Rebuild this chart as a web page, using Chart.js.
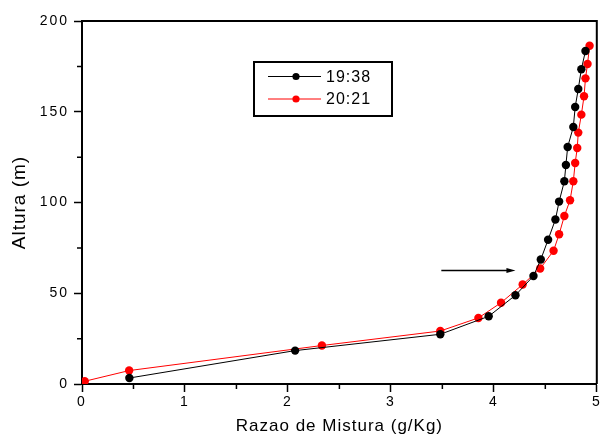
<!DOCTYPE html>
<html>
<head>
<meta charset="utf-8">
<script src="https://cdn.jsdelivr.net/npm/chart.js@4.4.1/dist/chart.umd.min.js"></script>
<style>
  html, body { margin: 0; background: #fff; }
  #wrap { width: 601px; height: 437px; }
</style>
</head>
<body>
<div id="wrap"><canvas id="grafico"></canvas></div>
<script>
// Perfil de razão de mistura x altura, dois horários
const NOMES = ["19:38", "20:21"];

const razao1938 = [0.46, 2.07, 3.48, 3.95, 4.21, 4.385, 4.456, 4.527, 4.598, 4.634, 4.685, 4.70, 4.717, 4.772, 4.79, 4.82, 4.85, 4.89];
const altura1938 = [3.3, 18.4, 27.4, 37.3, 48.9, 59.5, 68.6, 79.5, 90.6, 100.5, 111.7, 120.7, 130.6, 141.6, 152.6, 162.5, 173.4, 183.5];

const razao2021 = [0.026, 0.458, 2.33, 3.48, 3.85, 4.07, 4.28, 4.45, 4.58, 4.634, 4.685, 4.74, 4.772, 4.79, 4.81, 4.82, 4.85, 4.876, 4.89, 4.91, 4.93];
const altura2021 = [1.5, 7.4, 21.2, 29.2, 36.4, 44.8, 54.8, 63.6, 73.4, 82.5, 92.6, 101.2, 111.7, 121.8, 130, 138.5, 148.4, 158.5, 168.4, 176.3, 186.4];

const xMinorTicks = [0.5, 1.5, 2.5, 3.5, 4.5];
const yMinorTicks = [25, 75, 125, 175];

// seta: início, fim e altura em unidades dos eixos
const seta = { de: 3.49, ate: 4.21, altura: 62.6 };

const FONTE = "'Liberation Sans', Arial, sans-serif";

function pares(xs, ys) {
  return xs.map((x, i) => ({ x: x, y: ys[i] }));
}

function serie(nome, dados, cor) {
  return {
    label: nome,
    data: dados,
    showLine: true,
    borderColor: cor,
    backgroundColor: cor,
    borderWidth: 1,
    pointRadius: 4.2,
    pointHoverRadius: 4.2,
    pointBorderWidth: 0,
    tension: 0,
  };
}

const espacamento = {
  id: "espacamento",
  beforeDraw(chart) { chart.ctx.letterSpacing = "1px"; },
  afterDatasetsDraw(chart) { chart.ctx.letterSpacing = "2px"; },
};

const extras = {
  id: "extras",
  afterDraw(chart) {
    const ctx = chart.ctx;
    const a = chart.chartArea;
    const sx = chart.scales.x, sy = chart.scales.y;
    ctx.save();
    ctx.letterSpacing = "0px";
    ctx.strokeStyle = "#000";
    ctx.fillStyle = "#000";

    // moldura superior e direita
    ctx.lineWidth = 2;
    ctx.beginPath();
    ctx.moveTo(a.left, a.top);
    ctx.lineTo(a.right, a.top);
    ctx.lineTo(a.right, a.bottom);
    ctx.stroke();

    // ticks menores
    ctx.lineWidth = 1.5;
    ctx.beginPath();
    xMinorTicks.forEach((v) => {
      const px = sx.getPixelForValue(v);
      ctx.moveTo(px, a.bottom);
      ctx.lineTo(px, a.bottom + 5);
    });
    yMinorTicks.forEach((v) => {
      const py = sy.getPixelForValue(v);
      ctx.moveTo(a.left, py);
      ctx.lineTo(a.left - 5, py);
    });
    ctx.stroke();

    // seta
    const x0 = sx.getPixelForValue(seta.de);
    const x1 = sx.getPixelForValue(seta.ate);
    const ys = Math.round(sy.getPixelForValue(seta.altura)) + 0.5;
    ctx.lineWidth = 1.5;
    ctx.beginPath();
    ctx.moveTo(x0, ys);
    ctx.lineTo(x1 - 6, ys);
    ctx.stroke();
    ctx.beginPath();
    ctx.moveTo(x1, ys);
    ctx.lineTo(x1 - 9, ys - 2.5);
    ctx.lineTo(x1 - 9, ys + 2.5);
    ctx.closePath();
    ctx.fill();

    // legenda
    ctx.lineWidth = 2;
    ctx.strokeRect(254, 62, 138, 54);
    ctx.font = "16px " + FONTE;
    ctx.letterSpacing = "1px";
    ctx.textBaseline = "middle";
    ctx.textAlign = "left";
    const linhas = [76.5, 99];
    chart.data.datasets.forEach((ds, i) => {
      const y = linhas[i];
      ctx.strokeStyle = ds.borderColor;
      ctx.fillStyle = ds.borderColor;
      ctx.lineWidth = 1;
      ctx.beginPath();
      ctx.moveTo(268, y);
      ctx.lineTo(321, y);
      ctx.stroke();
      ctx.beginPath();
      ctx.arc(296, y, 3.6, 0, Math.PI * 2);
      ctx.fill();
      ctx.fillStyle = "#000";
      ctx.fillText(ds.label, 326, y + 1);
    });
    ctx.restore();
  },
};

new Chart(document.getElementById("grafico"), {
  type: "scatter",
  data: {
    datasets: [
      serie(NOMES[0], pares(razao1938, altura1938), "#000000"),
      serie(NOMES[1], pares(razao2021, altura2021), "#ff0000"),
    ],
  },
  options: {
    responsive: true,
    maintainAspectRatio: false,
    animation: false,
    events: [],
    layout: { padding: { top: 21, right: 2, left: 0, bottom: 0 } },
    plugins: {
      legend: { display: false },
      tooltip: { enabled: false },
    },
    scales: {
      x: {
        type: "linear",
        min: 0,
        max: 5,
        afterFit(s) { s.height = 53; s.paddingLeft = 0; s.paddingRight = 0; },
        ticks: {
          stepSize: 1,
          autoSkip: false,
          maxRotation: 0,
          padding: 2,
          z: 1,
          color: "#000",
          font: { family: FONTE, size: 14 },
        },
        grid: { drawOnChartArea: false, drawTicks: true, tickLength: 8, tickWidth: 1.5, tickColor: "#000" },
        border: { display: true, color: "#000", width: 2 },
        title: {
          display: true,
          text: "Razao de Mistura (g/Kg)",
          color: "#000",
          font: { family: FONTE, size: 17 },
          padding: { top: 0, bottom: 0 },
        },
      },
      y: {
        type: "linear",
        min: 0,
        max: 200,
        afterFit(s) { s.width = 82; s.paddingTop = 0; s.paddingBottom = 0; },
        ticks: {
          stepSize: 50,
          autoSkip: false,
          padding: 5,
          z: 1,
          color: "#000",
          font: { family: FONTE, size: 14 },
        },
        grid: { drawOnChartArea: false, drawTicks: true, tickLength: 8, tickWidth: 1.5, tickColor: "#000" },
        border: { display: true, color: "#000", width: 2 },
        title: {
          display: true,
          text: "Altura (m)",
          color: "#000",
          font: { family: FONTE, size: 19 },
          padding: { top: 8, bottom: 0 },
        },
      },
    },
  },
  plugins: [espacamento, extras],
});
</script>
</body>
</html>
